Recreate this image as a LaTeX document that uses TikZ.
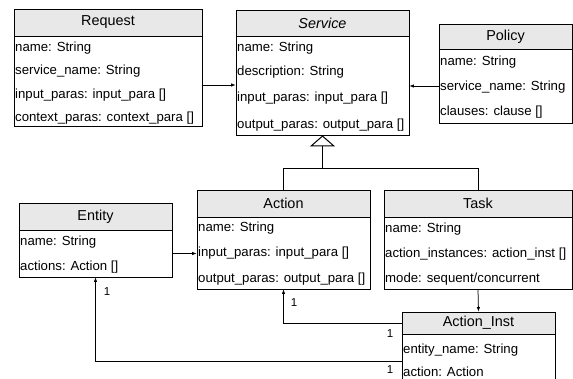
\documentclass[tikz,border=0pt]{standalone}
\usepackage{fontspec}
\setmainfont{Liberation Sans}
\usetikzlibrary{arrows.meta}
\definecolor{hdrgray}{HTML}{E8E8E8}
\tikzset{
  hdr/.style={draw, fill=hdrgray, line width=0.8pt, inner sep=0pt, font=\fontsize{14.4}{16}\selectfont},
  bodybox/.style={draw, fill=white, line width=0.8pt, inner sep=0pt},
  row/.style={anchor=west, inner sep=0pt, font=\fontsize{13.2}{15}\selectfont},
  conn/.style={line width=0.75pt, -{Latex[length=4.5pt,width=3.5pt]}},
  inh/.style={line width=1pt, -{Triangle[open, length=11pt, width=25pt, fill=white]}},
  plain/.style={line width=1pt},
  mult/.style={inner sep=0pt, font=\fontsize{11.5}{13}\selectfont},
}
\begin{document}
\begin{tikzpicture}[x=1pt,y=-1pt]
\useasboundingbox (0,0) rectangle (573,378);
\clip (0,0) rectangle (573,378);

% Request
\node[hdr, minimum width=188pt, minimum height=27pt] (reqh) at (108,22.5) {Request};
\node[bodybox, minimum width=188pt, minimum height=90pt] (reqb) at (108,81) {};
\node[row] (req1) at (15,48) {name: String};
\node[row] (req2) at (15,71) {service\_name: String};
\node[row] (req3) at (15,95) {input\_paras: input\_para []};
\node[row] (req4) at (15,118) {context\_paras: context\_para []};

% Service
\node[hdr, minimum width=173pt, minimum height=26pt] (svch) at (322.5,23) {\itshape Service};
\node[bodybox, minimum width=173pt, minimum height=99pt] (svcb) at (322.5,85.5) {};
\node[row] (svc1) at (237,48) {name: String};
\node[row] (svc2) at (237,72) {description: String};
\node[row] (svc3) at (237,98) {input\_paras: input\_para []};
\node[row] (svc4) at (237,125) {output\_paras: output\_para []};

% Policy
\node[hdr, minimum width=133pt, minimum height=25pt] (polh) at (505.5,36.5) {Policy};
\node[bodybox, minimum width=133pt, minimum height=74pt] (polb) at (505.5,86) {};
\node[row] (pol1) at (440,62) {name: String};
\node[row] (pol2) at (440,87) {service\_name: String};
\node[row] (pol3) at (440,112) {clauses: clause []};

% Entity
\node[hdr, minimum width=153pt, minimum height=27pt] (enth) at (95.5,216.5) {Entity};
\node[bodybox, minimum width=153pt, minimum height=47pt] (entb) at (95.5,253.5) {};
\node[row] (ent1) at (20,242) {name: String};
\node[row] (ent2) at (20,267) {actions: Action []};

% Action
\node[hdr, minimum width=173pt, minimum height=27pt] (acth) at (283.5,203.5) {Action};
\node[bodybox, minimum width=173pt, minimum height=72pt] (actb) at (283.5,253) {};
\node[row] (act1) at (198,228) {name: String};
\node[row] (act2) at (198,253) {input\_paras: input\_para []};
\node[row] (act3) at (198,279) {output\_paras: output\_para []};

% Task
\node[hdr, minimum width=188pt, minimum height=27pt] (taskh) at (478,203.5) {Task};
\node[bodybox, minimum width=188pt, minimum height=72pt] (taskb) at (478,253) {};
\node[row] (task1) at (385,229) {name: String};
\node[row] (task2) at (385,254) {action\_instances: action\_inst []};
\node[row] (task3) at (385,279) {mode: sequent/concurrent};

% Action_Inst
\node[hdr, minimum width=153pt, minimum height=22pt] (aih) at (478.5,323) {Action\_Inst};
\node[bodybox, minimum width=153pt, minimum height=54pt] (aib) at (478.5,361) {};
\node[row] (ai1) at (403,350) {entity\_name: String};
\node[row] (ai2) at (403,372) {action: Action};

% associations
\draw[conn] (reqb.east) ++(0,4) coordinate (reqout) -- (reqout -| svcb.west);
\draw[conn] (polb.west) -- (polb.west -| svcb.east);
\draw[conn] (entb.east) -- (entb.east -| actb.west);
\draw[conn] (taskb.south) -- (aih.north);
\draw[conn] (aih.west) -| (actb.south);
\draw[conn] (aib.west) -| (entb.south);

% generalisation
\coordinate (joint) at (322.5,168);
\draw[plain] (acth.north) |- (joint);
\draw[plain] (taskh.north) |- (joint);
\draw[inh] (joint) -- (svcb.south);

% multiplicities
\node[mult] (m1) at (294,303) {1};
\node[mult] (m2) at (107,292) {1};
\node[mult] (m3) at (390,334) {1};
\node[mult] (m4) at (390,370) {1};
\end{tikzpicture}
\end{document}
